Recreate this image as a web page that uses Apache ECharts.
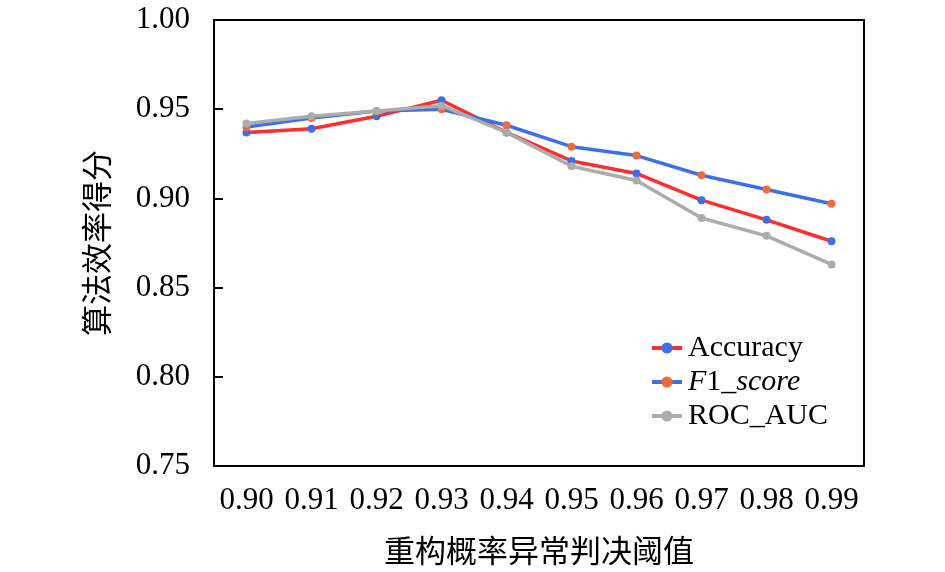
<!DOCTYPE html>
<html>
<head>
<meta charset="utf-8">
<script src="https://cdn.jsdelivr.net/npm/echarts@6/dist/echarts.min.js"></script>
<style>
  html, body { margin: 0; padding: 0; background: #fff; }
  #chart { width: 945px; height: 572px; }
</style>
</head>
<body>
<div id="chart"></div>
<script>
// 阈值
const thresholds = ['0.90', '0.91', '0.92', '0.93', '0.94', '0.95', '0.96', '0.97', '0.98', '0.99']
const accuracy = [0.937, 0.939, 0.946, 0.955, 0.937, 0.921, 0.914, 0.899, 0.888, 0.876]
const f1Score = [0.940, 0.945, 0.949, 0.950, 0.941, 0.929, 0.924, 0.913, 0.905, 0.897]
const rocAuc = [0.942, 0.946, 0.949, 0.952, 0.937, 0.918, 0.910, 0.889, 0.879, 0.863]

const serif = '"Liberation Serif", "Times New Roman", serif'
const cjk = '"Noto Sans CJK SC", sans-serif'

function makeSeries(name, data, lineColor, dotColor) {
    return {
        name: name,
        type: 'line',
        data: data,
        symbol: 'circle',
        symbolSize: 8,
        lineStyle: { color: lineColor, width: 3.5 },
        itemStyle: { color: dotColor },
        emphasis: { disabled: true }
    }
}

const chart = echarts.init(document.getElementById('chart'))
chart.setOption({
    animation: false,
    grid: {
        left: 214, right: 81, top: 20, bottom: 106,
        show: true, borderColor: '#000', borderWidth: 2
    },
    legend: {
        orient: 'vertical',
        left: 645,
        top: 328,
        itemWidth: 30,
        itemHeight: 14,
        itemGap: 4,
        lineStyle: { width: 4 },
        data: ['Accuracy', 'F1_score', 'ROC_AUC'],
        formatter: function (name) {
            if (name === 'F1_score') return '{i|F}1_{i|score}'
            return name
        },
        textStyle: {
            fontFamily: serif, fontSize: 30, color: '#000', padding: [0, 0, 0, 1],
            rich: {
                i: { fontFamily: serif, fontSize: 30, fontStyle: 'italic', color: '#000' }
            }
        }
    },
    xAxis: {
        type: 'category',
        data: thresholds,
        name: '重构概率异常判决阈值',
        nameLocation: 'middle',
        nameGap: 69,
        nameTextStyle: { fontFamily: cjk, fontSize: 31, color: '#000' },
        axisLine: { lineStyle: { color: '#000', width: 2 } },
        axisTick: { inside: true, alignWithLabel: true, length: 8, lineStyle: { color: '#000', width: 2 } },
        axisLabel: { interval: 0, fontFamily: serif, fontSize: 31, color: '#000', margin: 19 }
    },
    yAxis: {
        type: 'value',
        min: 0.75,
        max: 1.0,
        interval: 0.05,
        name: '算法效率得分',
        nameLocation: 'middle',
        nameGap: 102,
        nameTextStyle: { fontFamily: cjk, fontSize: 31, color: '#000' },
        splitLine: { show: false },
        axisLine: { show: true, lineStyle: { color: '#000', width: 2 } },
        axisTick: { show: true, inside: true, length: 9, lineStyle: { color: '#000', width: 2 } },
        axisLabel: {
            fontFamily: serif, fontSize: 31, color: '#000', margin: 24,
            formatter: v => v.toFixed(2)
        }
    },
    series: [
        makeSeries('Accuracy', accuracy, '#ff2d2d', '#3d6fe8'),
        makeSeries('F1_score', f1Score, '#3d70e6', '#f06a3c'),
        makeSeries('ROC_AUC', rocAuc, '#a9aeab', '#a9aeab')
    ]
})
</script>
</body>
</html>
